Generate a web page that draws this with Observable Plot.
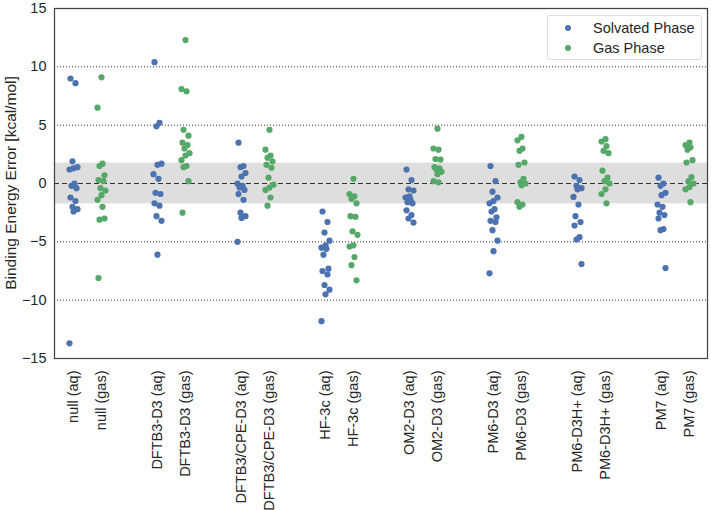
<!DOCTYPE html>
<html>
<head>
<meta charset="utf-8">
<script src="https://cdn.jsdelivr.net/npm/d3@7"></script>
<script src="https://cdn.jsdelivr.net/npm/@observablehq/plot@0.6"></script>
<style>
  html, body { margin: 0; padding: 0; background: #fff; }
  #wrap { position: relative; width: 711px; height: 510px; font-family: "Liberation Sans", Arial, sans-serif; }
  #legend { position: absolute; left: 547px; top: 15px; width: 155px; height: 45px; border: 1px solid #ddd; border-radius: 3px; background: rgba(255,255,255,0.85); font-size: 14.5px; color: #262626; box-sizing: border-box; }
  #legend .row { position: absolute; left: 0; height: 20px; line-height: 20px; white-space: nowrap; }
  #legend .dot { position: absolute; left: 17px; top: 7px; width: 6px; height: 6px; border-radius: 50%; }
  #legend .lab { position: absolute; left: 45px; top: 0; }
</style>
</head>
<body>
<div id="wrap">
  <div id="chart"></div>
  <div id="legend"></div>
</div>
<script>
const methods = ["null", "DFTB3-D3", "DFTB3/CPE-D3", "HF-3c", "OM2-D3", "PM6-D3", "PM6-D3H+", "PM7"];
const phases = ["Solvated Phase", "Gas Phase"];
const phaseColors = ["#4C72B0", "#55A868"];
const yTicks = [-15, -10, -5, 0, 5, 10, 15];
const gridValues = [-10, -5, 5, 10];
const bandHalfWidth = 1.75;

const aqValues = [
  [9.0, 8.6, 1.9, 1.4, 1.3, 1.2, 0.0, -0.2, -0.4, -1.2, -1.5, -2.0, -2.2, -2.4, -13.7],
  [10.4, 5.2, 4.9, 1.7, 1.6, 0.8, 0.4, -0.8, -0.9, -1.7, -1.9, -2.8, -3.2, -6.1],
  [3.5, 1.5, 1.4, 0.9, 0.6, 0.0, -0.2, -0.35, -0.55, -0.9, -1.4, -2.5, -2.8, -2.95, -5.0],
  [-2.4, -3.3, -4.2, -4.9, -5.3, -5.5, -5.6, -6.1, -7.3, -7.5, -7.8, -8.7, -9.1, -9.5, -11.8],
  [1.2, 0.3, -0.5, -0.6, -1.1, -1.2, -1.4, -1.6, -1.7, -2.3, -2.7, -3.0, -3.35],
  [1.5, 0.2, -0.7, -1.2, -1.5, -1.7, -2.2, -2.4, -2.9, -3.2, -3.3, -4.0, -4.9, -5.8, -7.7],
  [0.6, 0.3, -0.2, -0.4, -0.5, -1.15, -1.8, -2.8, -3.3, -3.6, -4.6, -4.8, -6.9],
  [0.5, 0.0, -0.2, -0.8, -1.0, -1.8, -2.0, -2.5, -2.7, -3.0, -3.9, -4.0, -7.25]
];
const gasValues = [
  [9.1, 6.5, 1.7, 1.5, 0.7, 0.3, 0.2, -0.4, -0.6, -1.0, -1.4, -2.0, -3.1, -3.0, -8.1],
  [12.3, 8.1, 7.9, 4.6, 4.1, 3.5, 3.3, 3.0, 2.6, 2.4, 2.0, 1.5, 1.4, 0.2, -2.5],
  [4.6, 2.9, 2.4, 2.2, 1.9, 1.6, 1.35, 0.5, -0.1, -0.35, -0.55, -1.2, -1.9],
  [0.4, -0.9, -1.1, -1.3, -1.7, -2.8, -2.85, -4.1, -4.4, -5.3, -5.4, -6.3, -7.0, -8.3],
  [4.7, 3.0, 2.9, 2.1, 2.05, 1.4, 1.3, 1.2, 1.0, 0.8, 0.2, 0.1],
  [4.0, 3.7, 3.0, 2.8, 1.8, 1.6, 0.4, 0.1, 0.0, -0.15, -1.6, -1.8, -2.0],
  [3.8, 3.6, 3.2, 2.8, 2.6, 1.1, 0.5, 0.2, 0.0, -0.5, -0.9, -1.7],
  [3.5, 3.3, 3.1, 2.9, 2.0, 1.8, 0.55, 0.2, 0.0, -0.3, -0.5, -1.6]
];

// jitter offsets (px), purely cosmetic like a strip plot's jitter
const jitter = [-3, 2, -1, 4, 0, -4, 1, -2, 3];

// x domain with spacer slots between method pairs
const domain = [];
methods.forEach((m, i) => {
  domain.push(`${m} (aq)`, `${m} (gas)`);
  if (i < methods.length - 1) domain.push(`__sp${i}`);
});

const rows = [];
methods.forEach((m, i) => {
  aqValues[i].forEach((v, k) => rows.push({cat: `${m} (aq)`, value: v, phase: phases[0], j: k % jitter.length}));
  gasValues[i].forEach((v, k) => rows.push({cat: `${m} (gas)`, value: v, phase: phases[1], j: (k + 4) % jitter.length}));
});

const dotMarks = jitter.map((d, k) =>
  Plot.dot(rows.filter(r => r.j === k), {x: "cat", y: "value", fill: "phase", r: 3.1, dx: d})
);

const chart = Plot.plot({
  width: 711,
  height: 510,
  marginLeft: 54,
  marginRight: 4,
  marginTop: 8,
  marginBottom: 152,
  style: {fontFamily: "'Liberation Sans', Arial, sans-serif", fontSize: "14.5px", color: "#262626", background: "#fff"},
  x: {type: "point", domain, padding: 0.5},
  y: {domain: [-15, 15]},
  color: {domain: phases, range: phaseColors},
  marks: [
    Plot.rect([{lo: -bandHalfWidth, hi: bandHalfWidth}], {y1: "lo", y2: "hi", fill: "#dedede"}),
    Plot.ruleY(gridValues, {stroke: "#333", strokeWidth: 1, strokeDasharray: "1,2"}),
    Plot.ruleY([0], {stroke: "#333", strokeWidth: 1, strokeDasharray: "5,3"}),
    ...dotMarks,
    Plot.axisY({ticks: yTicks, tickSize: 0, tickPadding: 8, label: null, fontSize: 14.5}),
    Plot.axisX({tickSize: 0, tickPadding: 12, tickRotate: -90, label: null, fontSize: 14.5,
      tickFormat: d => d.startsWith("__sp") ? "" : d}),
    Plot.frame({stroke: "#444", strokeWidth: 1.25})
  ]
});

// y-axis title as real text inside the svg
const ns = "http://www.w3.org/2000/svg";
const t = document.createElementNS(ns, "text");
t.setAttribute("transform", "translate(12,183) rotate(-90)");
t.setAttribute("text-anchor", "middle");
t.setAttribute("dominant-baseline", "middle");
t.setAttribute("font-size", "15.5px");
t.setAttribute("fill", "#262626");
t.textContent = "Binding Energy Error [kcal/mol]";
chart.appendChild(t);

document.getElementById("chart").appendChild(chart);

const legend = document.getElementById("legend");
phases.forEach((p, i) => {
  const row = document.createElement("div");
  row.className = "row";
  row.style.top = (2 + i * 20) + "px";
  row.style.width = "100%";
  row.innerHTML = `<span class="dot" style="background:${phaseColors[i]}"></span><span class="lab">${p}</span>`;
  legend.appendChild(row);
});
</script>
</body>
</html>
